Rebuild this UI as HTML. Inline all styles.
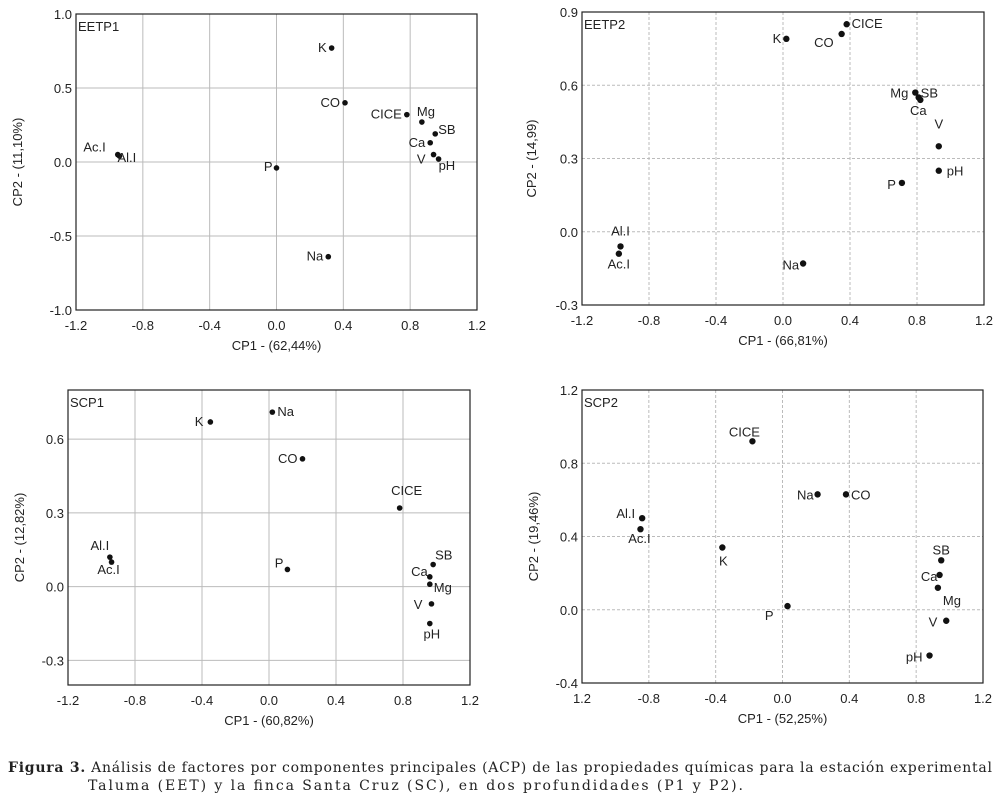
<!DOCTYPE html>
<html><head><meta charset="utf-8">
<style>
body{margin:0;background:#fff;width:1000px;height:801px;overflow:hidden;font-family:"Liberation Sans",sans-serif}
svg text{font-family:"Liberation Sans",sans-serif;fill:#222}
svg text.cap{font-family:"DejaVu Serif","Liberation Serif",serif;font-size:14px;fill:#222}
</style></head>
<body>
<svg id="fig" width="1000" height="801" viewBox="0 0 1000 801" style="position:absolute;left:0;top:0">
<text class="cap" x="8" y="772" textLength="984" lengthAdjust="spacing"><tspan font-weight="bold">Figura 3.</tspan> Análisis de factores por componentes principales (ACP) de las propiedades químicas para la estación experimental</text>
<text class="cap" x="88" y="790" textLength="655" lengthAdjust="spacing">Taluma (EET) y la finca Santa Cruz (SC), en dos profundidades (P1 y P2).</text>
</svg>
<script>
// Panel data
const p1Labels=["K","CO","CICE","Mg","SB","Ca","V","pH","Ac.I","Al.I","P","Na"];
const p1X=[0.33,0.41,0.78,0.87,0.95,0.92,0.94,0.97,-0.95,-0.94,0.0,0.31];
const p1Y=[0.77,0.40,0.32,0.27,0.19,0.13,0.05,0.02,0.05,0.04,-0.04,-0.64];
const p2Labels=["K","CO","CICE","Mg","SB","Ca","V","pH","P","Al.I","Ac.I","Na"];
const p2X=[0.02,0.35,0.38,0.79,0.81,0.82,0.93,0.93,0.71,-0.97,-0.98,0.12];
const p2Y=[0.79,0.81,0.85,0.57,0.55,0.54,0.35,0.25,0.20,-0.06,-0.09,-0.13];
const p3Labels=["K","Na","CO","CICE","Al.I","Ac.I","P","SB","Ca","Mg","V","pH"];
const p3X=[-0.35,0.02,0.20,0.78,-0.95,-0.94,0.11,0.98,0.96,0.96,0.97,0.96];
const p3Y=[0.67,0.71,0.52,0.32,0.12,0.10,0.07,0.09,0.04,0.01,-0.07,-0.15];
const p4Labels=["CICE","Na","CO","Al.I","Ac.I","K","SB","Ca","Mg","P","V","pH"];
const p4X=[-0.18,0.21,0.38,-0.84,-0.85,-0.36,0.95,0.94,0.93,0.03,0.98,0.88];
const p4Y=[0.92,0.63,0.63,0.50,0.44,0.34,0.27,0.19,0.12,0.02,-0.06,-0.25];
const xTicks=[-1.2,-0.8,-0.4,0.0,0.4,0.8,1.2];
const xTickText=["-1.2","-0.8","-0.4","0.0","0.4","0.8","1.2"];
const xTickText4=["1.2","-0.8","-0.4","0.0","0.4","0.8","1.2"];
const y1Ticks=[-1.0,-0.5,0.0,0.5,1.0];
const y2Ticks=[-0.3,0.0,0.3,0.6,0.9];
const y3Ticks=[-0.3,0.0,0.3,0.6];
const y4Ticks=[-0.4,0.0,0.4,0.8,1.2];

// label offsets [dx,dy,anchor] (styling)
const off1=[[-5,4,"end"],[-5,4,"end"],[-5,4,"end"],[-5,-6,"start"],[3,0,"start"],[-5,4,"end"],[-8,9,"end"],[0,11,"start"],[-12,-3,"end"],[-2,6,"start"],[-4,3,"end"],[-5,4,"end"]];
const off2=[[-5,4,"end"],[-8,13,"end"],[5,4,"start"],[-7,5,"end"],[2,0,"start"],[-2,15,"middle"],[0,-18,"middle"],[8,5,"start"],[-6,6,"end"],[0,-11,"middle"],[0,15,"middle"],[-4,6,"end"]];
const off3=[[-7,4,"end"],[5,4,"start"],[-5,4,"end"],[7,-13,"middle"],[-10,-7,"middle"],[-3,12,"middle"],[-4,-2,"end"],[2,-5,"start"],[-2,-1,"end"],[4,8,"start"],[-9,5,"end"],[2,15,"middle"]];
const off4=[[-8,-5,"middle"],[-4,5,"end"],[5,5,"start"],[-7,0,"end"],[-1,14,"middle"],[1,18,"middle"],[0,-6,"middle"],[-2,6,"end"],[5,17,"start"],[-14,14,"end"],[-9,6,"end"],[-7,6,"end"]];

const NS="http://www.w3.org/2000/svg";
const svg=document.getElementById("fig");
function el(tag,attrs,parent,text){const e=document.createElementNS(NS,tag);for(const k in attrs)e.setAttribute(k,attrs[k]);if(text!==undefined)e.textContent=text;(parent||svg).appendChild(e);return e;}

function panel(cfg){
  const g=el("g",{});
  
  
  const {L,R,T,B,xmin,xmax,ymin,ymax}=cfg;
  const sx=v=>L+(v-xmin)/(xmax-xmin)*(R-L);
  const sy=v=>B-(v-ymin)/(ymax-ymin)*(B-T);
  const dash=cfg.dashed?"3,2":"none";
  xTicks.forEach((t,i)=>{
    const x=sx(t);
    if(i>0&&i<xTicks.length-1){const gl=el("line",{x1:x,x2:x,y1:T,y2:B,stroke:"#bbb","stroke-width":1,"stroke-dasharray":dash},g);
      
      }
    const tl=el("text",{x:x,y:B+20,"text-anchor":"middle","font-size":13},g,cfg.xText[i]);
    
    
  });
  cfg.yTicks.forEach(t=>{
    const y=sy(t);
    if(t>ymin&&t<ymax){const gl=el("line",{x1:L,x2:R,y1:y,y2:y,stroke:"#bbb","stroke-width":1,"stroke-dasharray":dash},g);
      
      }
    const tl=el("text",{x:L-4,y:y+5,"text-anchor":"end","font-size":13},g,t.toFixed(1));
    
    
  });
  const fr=el("rect",{x:L,y:T,width:R-L,height:B-T,fill:"none",stroke:"#222","stroke-width":1.2},g);
  
  
  const ti=el("text",{x:L+2,y:T+17,"font-size":13},g,cfg.title);
  
  
  const xt=el("text",{x:(L+R)/2,y:B+40,"text-anchor":"middle","font-size":13},g,cfg.xTitle);
  
  
  const yt=el("text",{x:cfg.yTitleX,y:(T+B)/2,"text-anchor":"middle","font-size":13,transform:`rotate(-90 ${cfg.yTitleX} ${(T+B)/2})`},g,cfg.yTitle);
  
  
  cfg.xs.forEach((v,i)=>{
    const cx=sx(v),cy=sy(cfg.ys[i]);
    const c=el("circle",{cx:cx,cy:cy,r:cfg.r,fill:"#111"},g);
    
    
    const o=cfg.off[i];
    const t=el("text",{x:cx+o[0],y:cy+o[1],"text-anchor":o[2],"font-size":13},g,cfg.labels[i]);
    
    
  });
}
panel({name:"panel-eetp1",L:76,R:477,T:14,B:310,xmin:-1.2,xmax:1.2,ymin:-1,ymax:1,yTicks:y1Ticks,xText:xTickText,title:"EETP1",xTitle:"CP1 - (62,44%)",yTitle:"CP2 - (11,10%)",yTitleX:22,xs:p1X,ys:p1Y,labels:p1Labels,off:off1,r:2.8,dashed:false});
panel({name:"panel-eetp2",L:582,R:984,T:12,B:305,xmin:-1.2,xmax:1.2,ymin:-0.3,ymax:0.9,yTicks:y2Ticks,xText:xTickText,title:"EETP2",xTitle:"CP1 - (66,81%)",yTitle:"CP2 - (14,99)",yTitleX:536,xs:p2X,ys:p2Y,labels:p2Labels,off:off2,r:3.2,dashed:true});
panel({name:"panel-scp1",L:68,R:470,T:390,B:685,xmin:-1.2,xmax:1.2,ymin:-0.4,ymax:0.8,yTicks:y3Ticks,xText:xTickText,title:"SCP1",xTitle:"CP1 - (60,82%)",yTitle:"CP2 - (12,82%)",yTitleX:24,xs:p3X,ys:p3Y,labels:p3Labels,off:off3,r:2.8,dashed:false});
panel({name:"panel-scp2",L:582,R:983,T:390,B:683,xmin:-1.2,xmax:1.2,ymin:-0.4,ymax:1.2,yTicks:y4Ticks,xText:xTickText4,title:"SCP2",xTitle:"CP1 - (52,25%)",yTitle:"CP2 - (19,46%)",yTitleX:538,xs:p4X,ys:p4Y,labels:p4Labels,off:off4,r:3.2,dashed:true});
</script>
</body></html>
